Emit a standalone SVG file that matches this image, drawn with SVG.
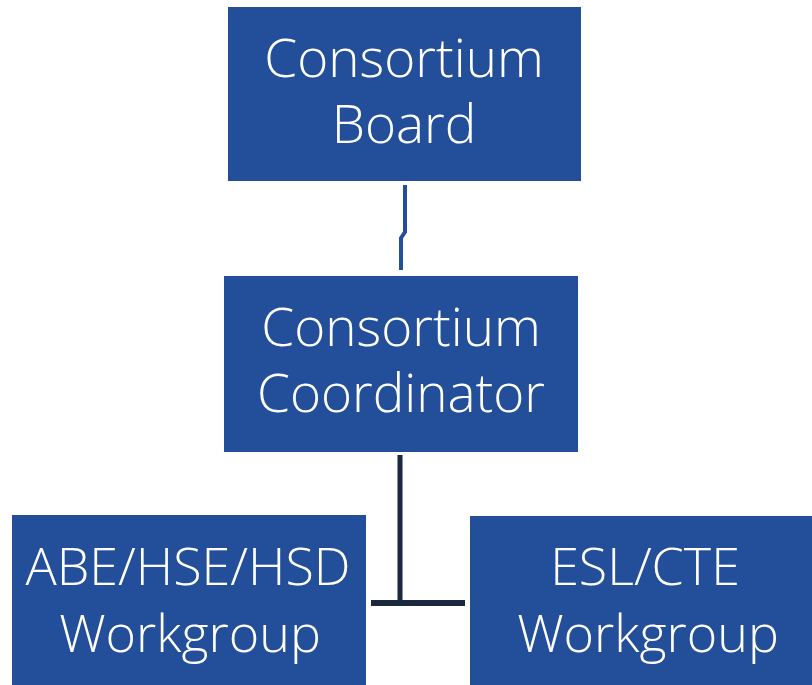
<svg xmlns="http://www.w3.org/2000/svg" width="812" height="685" viewBox="0 0 812 685">
<style>
.box{fill:#234e9a}
.t{fill:#ffffff;font-family:"Open Sans","Noto Sans","Liberation Sans",sans-serif;font-size:53px;font-weight:300;text-anchor:middle}
.s{font-size:52px}
</style>
<rect width="812" height="685" fill="#ffffff"/>
<g id="connectors">
<path d="M405,185 V232 L401,238 V270" fill="none" stroke="#234e9a" stroke-width="4"/>
<path d="M400,455 V603" fill="none" stroke="#1c2740" stroke-width="5"/>
<path d="M371,603 H465" fill="none" stroke="#1c2740" stroke-width="6"/>
</g>
<g id="board">
<rect class="box" x="228" y="7" width="353" height="174"/>
<text class="t"><tspan x="404" y="77">Consortium</tspan><tspan x="404" y="143">Board</tspan></text>
</g>
<g id="coordinator">
<rect class="box" x="224" y="276" width="354" height="176"/>
<text class="t"><tspan x="401" y="346">Consortium</tspan><tspan x="401" y="412">Coordinator</tspan></text>
</g>
<g id="abe">
<rect class="box" x="12" y="515" width="354" height="170"/>
<text class="t s"><tspan x="188" y="585">ABE/HSE/HSD</tspan><tspan x="190" y="652">Workgroup</tspan></text>
</g>
<g id="esl">
<rect class="box" x="470" y="516" width="342" height="169"/>
<text class="t s"><tspan x="645" y="585">ESL/CTE</tspan><tspan x="648" y="652">Workgroup</tspan></text>
</g>
</svg>
